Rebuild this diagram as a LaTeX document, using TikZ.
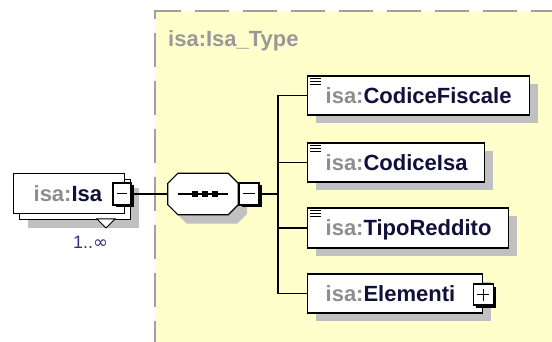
\documentclass[tikz,border=0pt]{standalone}
\usepackage{fontspec}
\setmainfont{Liberation Sans}
\newfontfamily\symfont{DejaVu Sans}
\usetikzlibrary{shadows}
\definecolor{typeyellow}{HTML}{FFFFCC}
\definecolor{dashgray}{HTML}{A0A0A0}
\definecolor{titlegray}{HTML}{999999}
\definecolor{prefixgray}{HTML}{8E8E8E}
\definecolor{namecol}{HTML}{10103A}
\definecolor{shadowgray}{HTML}{C0C0C0}
\definecolor{occcol}{HTML}{33337A}
\newcommand\pfxname[1]{\textcolor{prefixgray}{isa:}\textcolor{namecol}{#1}}
\begin{document}
\begin{tikzpicture}[x=1pt,y=-1pt,
  lbl/.style={font=\fontsize{22}{26}\selectfont\bfseries},
  box/.style={draw=black, line width=1.3pt, fill=white, inner sep=0pt, text height=16pt, text depth=0pt, lbl},
  shad/.style={drop shadow={shadow xshift=8pt, shadow yshift=-8pt, fill=shadowgray, opacity=1}},
  ctrl/.style={draw=black, line width=1.2pt, fill=white, inner sep=0pt, minimum width=18pt, minimum height=22pt, drop shadow={shadow xshift=2.5pt, shadow yshift=-2.5pt, fill=black, opacity=1}},
  conn/.style={line width=1.2pt},
  border/.style={dashgray, line width=2pt, dash pattern=on 34pt off 14pt}
]
\useasboundingbox (0,0) rectangle (552,342);
\clip (0,0) rectangle (552,342);
% complex type container
\fill[typeyellow] (155,11) rectangle (600,400);
\draw[border] (155,67) -- (155,11) -- (600,11);
\draw[border] (155,81) -- (155,400);
\node[lbl, text=titlegray, anchor=base west, inner sep=0pt] (title) at (168,47) {isa:Isa\_Type};

% root element isa:Isa (repeating)
\node[box, shad, minimum width=111pt, minimum height=40pt, anchor=north west] (isaback) at (19,179) {};
\node[box, minimum width=111pt, minimum height=40pt, anchor=north west] (isa) at (13,173) {\makebox[111pt][l]{\hspace{20pt}\pfxname{Isa}}};
\draw[line width=1pt, fill=white] (97,219) -- (115,219) -- (106,228) -- cycle;
\node[ctrl] (isaminus) at (122,194) {};
\draw[line width=1pt] ([xshift=-5pt]isaminus.center) -- ([xshift=5pt]isaminus.center);
\node[font=\fontsize{18}{21}\selectfont, text=occcol, anchor=west, inner sep=0pt] (occ) at (73,242) {1..{\symfont ∞}};

% sequence compositor
\node[minimum width=70pt, minimum height=41pt, inner sep=0pt] (seq) at (203,194) {};
\path[draw=black, line width=1.2pt, fill=white, drop shadow={shadow xshift=9pt, shadow yshift=-9pt, fill=shadowgray, opacity=1}]
  ([xshift=10pt]seq.north west) -- ([xshift=-10pt]seq.north east) -- ([yshift=-10pt]seq.north east)
  -- ([yshift=10pt]seq.south east) -- ([xshift=-10pt]seq.south east) -- ([xshift=10pt]seq.south west)
  -- ([yshift=10pt]seq.south west) -- ([yshift=-10pt]seq.north west) -- cycle;
\draw[line width=1.2pt] ([xshift=-25pt]seq.center) -- ([xshift=25pt]seq.center);
\foreach \dx in {-8,2,12} \fill ([xshift=\dx pt]seq.center) +(-2.6,-2.6) rectangle +(2.6,2.6);
\node[ctrl, minimum width=20pt] (seqminus) at (249,194) {};
\draw[line width=1pt] ([xshift=-6pt]seqminus.center) -- ([xshift=6pt]seqminus.center);

% child elements
\node[box, shad, anchor=west, minimum width=222pt, minimum height=39pt] (cf) at (307,95.5) {\makebox[222pt][l]{\hspace{18pt}\pfxname{CodiceFiscale}}};
\node[box, shad, anchor=west, minimum width=177pt, minimum height=39pt] (ci) at (307,162.5) {\makebox[177pt][l]{\hspace{18pt}\pfxname{CodiceIsa}}};
\node[box, shad, anchor=west, minimum width=201pt, minimum height=40pt] (tr) at (307,228) {\makebox[201pt][l]{\hspace{18pt}\pfxname{TipoReddito}}};
\node[box, shad, anchor=west, minimum width=175pt, minimum height=39pt] (el) at (307,293.5) {\makebox[175pt][l]{\hspace{18pt}\pfxname{Elementi}}};
\foreach \n in {cf,ci,tr} \foreach \dy in {2.8,6.2,9.6} \draw[line width=1.1pt] (\n.north west) ++(3,\dy) -- ++(11,0);
\node[ctrl, minimum width=20pt, minimum height=21pt] (elplus) at ([yshift=-1pt]el.east) {};
\draw[line width=1pt] ([xshift=-6pt]elplus.center) -- ([xshift=6pt]elplus.center);
\draw[line width=1pt] ([yshift=-6pt]elplus.center) -- ([yshift=6pt]elplus.center);

% connectors
\coordinate (bus) at (278,194);
\draw[conn] (isaminus.east) -- (seq.west);
\draw[conn] (seqminus.east) -- (bus);
\draw[conn] (bus |- cf.west) -- (bus |- el.west);
\foreach \n in {cf,ci,tr,el} \draw[conn] (bus |- \n.west) -- (\n.west);
\end{tikzpicture}
\end{document}
